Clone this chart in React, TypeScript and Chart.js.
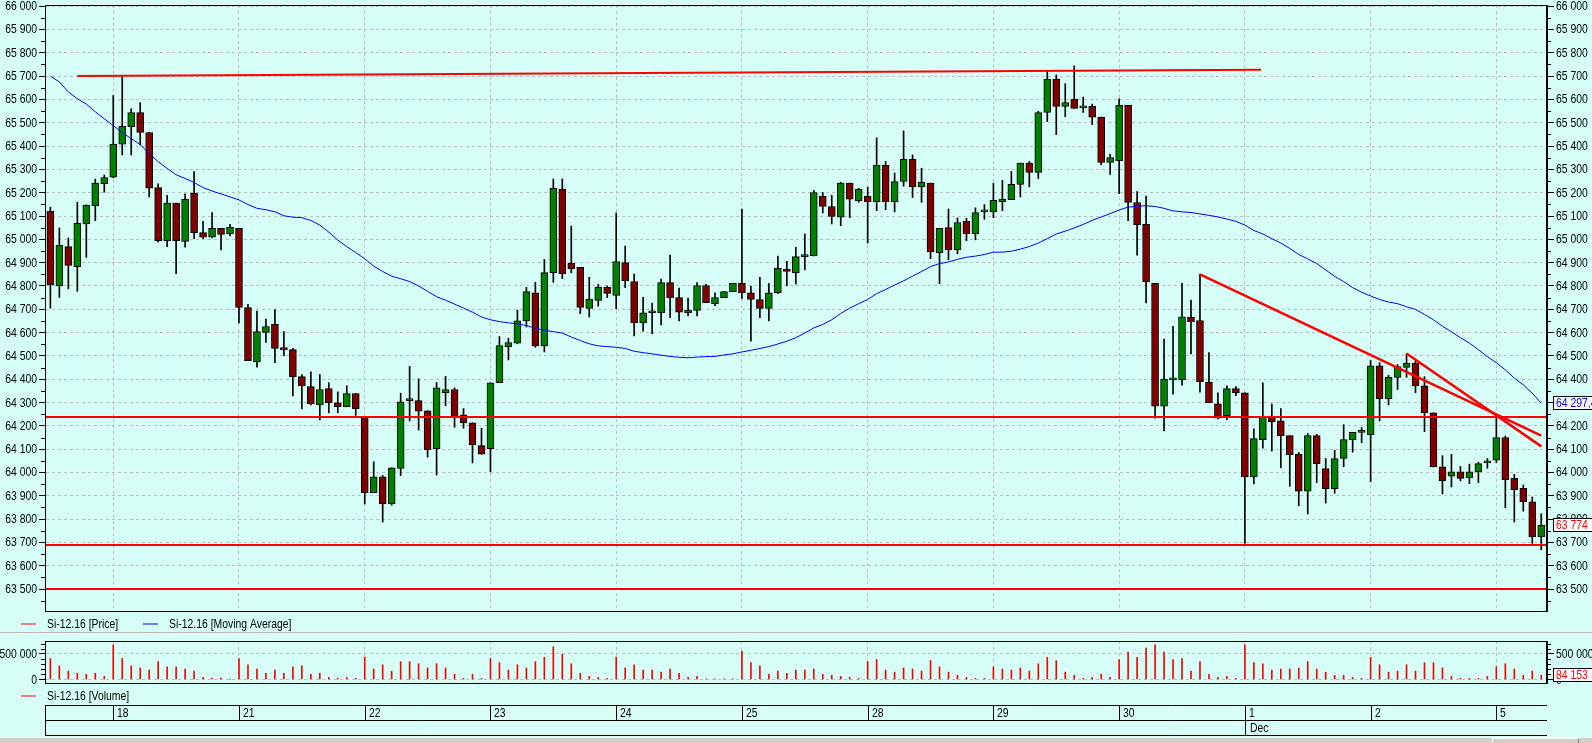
import React, { useEffect, useRef } from 'react';
import { Chart, registerables } from 'chart.js';

Chart.register(...registerables);

// ---------- DATA ----------
const seriesName = 'Si-12.16';
const dayStarts = [7, 21, 35, 49, 63, 77, 91, 105, 119, 133, 147, 161];
const dayLabels = ['18', '21', '22', '23', '24', '25', '28', '29', '30', '1', '2', '5'];
const monthStarts = [133];
const monthLabels = ['Dec'];

const open = [65120,64800,64969,64883,65066,65144,65239,65267,65408,65483,65544,65458,65222,64994,65155,64991,65198,65029,65009,65047,65024,65047,64707,64474,64601,64635,64532,64527,64411,64368,64290,64360,64299,64282,64339,64237,63914,63981,63865,64017,64308,64308,64265,64102,64342,64356,64247,64213,64115,64102,64385,64540,64555,64650,64771,64543,64857,65215,64897,64880,64704,64738,64794,64759,64900,64819,64642,64685,64685,64814,64750,64685,64695,64802,64724,64750,64776,64811,64771,64742,64704,64771,64871,64857,64926,64929,65184,65141,65095,65241,65166,65184,65161,65317,65161,65248,65343,65225,65241,64943,65050,64955,65077,65024,65118,65118,65162,65170,65236,65327,65287,65544,65687,65570,65601,65564,65570,65524,65330,65337,65575,65158,65064,64811,64285,64397,64397,64665,64652,64388,64294,64244,64360,64342,63981,64141,64242,64222,64158,64079,63920,64158,64017,63931,64060,64141,64172,64162,64458,64317,64408,64451,64468,64372,64256,64024,63984,64003,63978,64003,64041,64053,64150,63975,63932,63874,63724];
const high = [65138,65049,65006,65159,65148,65258,65276,65617,65698,65560,65586,65458,65238,65189,65155,65195,65291,65077,65115,65047,65064,65047,64721,64692,64658,64699,64604,64532,64420,64432,64420,64385,64346,64372,64339,64240,64046,63987,64020,64340,64455,64402,64265,64386,64412,64363,64274,64213,64190,64385,64583,64576,64696,64794,64816,64914,65259,65259,65057,64880,64837,64807,64800,65113,64971,64851,64751,64727,64830,64932,64791,64748,64814,64807,64771,64776,64811,65130,64800,64837,64811,64928,64906,64966,65023,65210,65201,65189,65245,65241,65219,65224,65435,65334,65284,65465,65362,65305,65241,65047,65130,65092,65090,65135,65149,65241,65253,65291,65327,65334,65549,65724,65705,65667,65744,65610,65580,65524,65365,65603,65575,65205,65185,64811,64572,64627,64811,64739,64850,64514,64342,64372,64368,64342,64187,64385,64294,64274,64158,64086,64167,64164,64060,64095,64205,64172,64193,64481,64471,64417,64463,64509,64478,64411,64256,64072,64078,64026,64036,64044,64060,64248,64156,63992,63946,63895,63823];
const low = [64705,64751,64788,64777,64923,65080,65202,65264,65362,65362,65405,65182,64988,64969,64853,64966,65003,65003,65007,64955,65015,64641,64480,64452,64558,64471,64501,64328,64273,64290,64225,64256,64256,64282,64245,63865,63914,63788,63860,63987,64221,64182,64066,63989,64287,64194,64190,64041,64079,64003,64385,64483,64552,64624,64537,64517,64816,64831,64857,64681,64667,64713,64750,64702,64793,64586,64606,64595,64633,64664,64650,64672,64672,64728,64715,64750,64776,64745,64563,64664,64650,64767,64800,64808,64869,64929,65113,65066,65058,65093,65159,64984,65123,65127,65118,65228,65179,65159,64917,64810,64912,64938,64994,64998,65086,65093,65123,65170,65182,65225,65261,65505,65449,65526,65561,65544,65492,65320,65278,65196,65080,64932,64727,64233,64178,64336,64374,64509,64345,64299,64230,64225,64330,63696,63951,64104,64092,64020,63941,63857,63822,63957,63869,63911,64025,64087,64128,63961,64221,64290,64356,64408,64342,64175,64024,63908,63938,63964,63952,63957,64018,64043,63849,63788,63834,63696,63668];
const close = [64805,64974,64888,65069,65146,65241,65265,65408,65485,65544,65458,65219,64994,65155,64994,65172,65029,65009,65047,65021,65052,64708,64480,64604,64626,64532,64527,64411,64371,64294,64356,64299,64282,64339,64274,63914,63981,63865,64020,64303,64308,64263,64098,64363,64356,64242,64213,64118,64079,64385,64544,64557,64650,64776,64543,64857,65219,64853,64874,64708,64744,64794,64768,64905,64823,64642,64685,64685,64814,64750,64688,64695,64802,64728,64750,64776,64811,64771,64742,64704,64771,64876,64862,64926,64926,65201,65141,65098,65241,65172,65215,65161,65317,65161,65248,65343,65225,65244,64946,65047,64955,65072,65024,65115,65118,65167,65173,65236,65327,65287,65544,65687,65570,65587,65561,65570,65524,65330,65351,65575,65158,65063,64817,64285,64400,64397,64668,64647,64388,64299,64233,64360,64342,63981,64145,64242,64217,64158,64076,63920,64158,64038,63931,64060,64141,64172,64172,64458,64317,64408,64454,64468,64372,64256,64024,63964,64003,63975,64003,64038,64041,64150,63969,63926,63874,63724,63774];
const movingAverage = [65700,65675,65632,65603,65580,65547,65517,65488,65458,65432,65406,65368,65333,65304,65277,65261,65244,65222,65207,65195,65182,65169,65149,65133,65127,65118,65101,65095,65093,65081,65061,65031,64997,64969,64943,64917,64885,64862,64842,64831,64819,64800,64777,64754,64739,64722,64705,64688,64667,64655,64647,64642,64638,64630,64619,64610,64604,64598,64581,64566,64552,64543,64540,64537,64532,64520,64514,64509,64503,64498,64494,64492,64495,64497,64498,64504,64509,64517,64524,64532,64540,64551,64563,64578,64598,64620,64635,64655,64682,64705,64724,64742,64767,64785,64804,64822,64842,64862,64883,64896,64903,64914,64923,64928,64935,64945,64945,64949,64958,64969,64984,65003,65023,65035,65049,65064,65081,65096,65110,65126,65138,65142,65144,65141,65133,65122,65118,65115,65109,65103,65096,65087,65077,65061,65038,65023,65003,64984,64961,64935,64916,64896,64869,64841,64819,64793,64773,64757,64742,64731,64724,64711,64699,64678,64655,64627,64604,64578,64555,64527,64497,64471,64440,64405,64376,64340,64297];
const volume = [411000,267000,164000,123000,103000,123000,62000,678000,411000,267000,226000,185000,349000,247000,247000,205000,164000,41000,27000,27000,7000,411000,288000,205000,123000,185000,123000,247000,267000,103000,123000,41000,27000,41000,27000,438000,205000,288000,164000,349000,349000,308000,226000,308000,226000,103000,21000,103000,21000,411000,329000,185000,288000,226000,349000,432000,637000,493000,308000,123000,62000,41000,21000,438000,226000,288000,185000,185000,144000,205000,123000,41000,62000,14000,14000,14000,14000,555000,329000,267000,103000,164000,123000,185000,185000,205000,103000,82000,62000,41000,21000,349000,390000,185000,144000,226000,205000,164000,370000,247000,144000,82000,41000,21000,21000,247000,205000,185000,226000,164000,308000,432000,370000,144000,82000,21000,41000,103000,41000,390000,534000,432000,616000,678000,534000,390000,411000,164000,349000,103000,41000,62000,21000,678000,329000,308000,185000,205000,205000,226000,349000,205000,144000,82000,82000,41000,21000,432000,288000,144000,164000,288000,164000,329000,329000,226000,62000,21000,21000,21000,62000,247000,308000,205000,82000,164000,84153];

const priceTicks = [63500,63600,63700,63800,63900,64000,64100,64200,64300,64400,64500,64600,64700,64800,64900,65000,65100,65200,65300,65400,65500,65600,65700,65800,65900,66000];
const volumeTicks = [0, 500000];
const volumeMinorTicks = [100000, 200000, 300000, 400000, 600000, 700000];
const levelLines = [64240, 63690, 63500];
const trendTopX = [3, 134.8];
const trendTopY = [65700, 65727];
const trendDown1X = [128, 166];
const trendDown1Y = [64850, 64158];
const trendDown2X = [151, 166];
const trendDown2Y = [64510, 64112];

// ---------- STYLE ----------
const BG = 'rgb(213,255,247)';
const GRID = 'rgb(196,188,188)';
const FONT = "'Liberation Sans', Arial, sans-serif";
const FS = 13;
const SX = 0.8; // horizontal condensation of text
const X_MIN = -0.6;
const X_MAX = 166.64;
const AXIS_W = 45;

const fmt = (v: number) => {
  const s = Math.round(v).toString();
  return s.length > 3 ? s.slice(0, -3) + ' ' + s.slice(-3) : s;
};

const drawText = (ctx: CanvasRenderingContext2D, text: string, x: number, y: number, align: CanvasTextAlign, color: string) => {
  ctx.save();
  ctx.translate(x, y);
  ctx.scale(SX, 1);
  ctx.font = `${FS}px ${FONT}`;
  ctx.fillStyle = color;
  ctx.textAlign = align;
  ctx.textBaseline = 'middle';
  ctx.fillText(text, 0, 0);
  ctx.restore();
};

const xScaleOpts = () => ({
  type: 'linear',
  min: X_MIN,
  max: X_MAX,
  offset: false,
  afterBuildTicks: (s: any) => { s.ticks = dayStarts.map((v) => ({ value: v })); },
  ticks: { display: false },
  grid: { color: GRID, drawTicks: false, lineWidth: 1, offset: false },
  border: { display: false, dash: [3, 3] },
  afterFit: (s: any) => { s.height = 0; s.paddingLeft = 0; s.paddingRight = 0; },
});

const yScaleOpts = (pos: 'left' | 'right', min: number, max: number, ticks: number[], onArea: boolean) => ({
  type: 'linear',
  position: pos,
  min,
  max,
  afterBuildTicks: (s: any) => { s.ticks = ticks.map((v) => ({ value: v })); },
  ticks: { display: false },
  grid: { color: GRID, drawOnChartArea: onArea, tickColor: '#000', tickLength: pos === 'left' ? 6 : 7, lineWidth: 1 },
  border: { display: true, color: '#000', width: 1, dash: [3, 3] },
  afterFit: (s: any) => { s.width = AXIS_W; s.paddingTop = 0; s.paddingBottom = 0; },
});

const drawAxisLabels = (chart: any, ticks: number[]) => {
  const { ctx, chartArea } = chart;
  const y = chart.scales.y;
  ticks.forEach((v) => {
    const py = Math.round(y.getPixelForValue(v)) + 0.5;
    drawText(ctx, fmt(v), chartArea.left - 8, py, 'right', '#000');
    drawText(ctx, fmt(v), chartArea.right + 9, py, 'left', '#000');
  });
};

const drawLegendItem = (ctx: CanvasRenderingContext2D, x: number, y: number, color: string, text: string) => {
  ctx.save();
  ctx.strokeStyle = color;
  ctx.lineWidth = 1;
  ctx.beginPath();
  ctx.moveTo(x, y + 0.5);
  ctx.lineTo(x + 15, y + 0.5);
  ctx.stroke();
  ctx.restore();
  drawText(ctx, text, x + 26, y + 0.5, 'left', '#000');
};

const drawValueBox = (ctx: CanvasRenderingContext2D, y: number, text: string, color: string) => {
  ctx.save();
  const yy = Math.round(y);
  ctx.fillStyle = '#fff';
  ctx.fillRect(1553, yy - 7, 45, 14);
  ctx.strokeStyle = '#000';
  ctx.lineWidth = 1;
  ctx.strokeRect(1553.5, yy - 6.5, 45, 13);
  ctx.restore();
  drawText(ctx, text, 1556, yy + 0.5, 'left', color);
};

const drawMinorTicks = (chart: any, values: number[], len: number) => {
  const { ctx, chartArea } = chart;
  const y = chart.scales.y;
  ctx.save();
  ctx.strokeStyle = '#000';
  ctx.lineWidth = 1;
  ctx.beginPath();
  values.forEach((v) => {
    const py = Math.round(y.getPixelForValue(v)) + 0.5;
    ctx.moveTo(chartArea.left - len, py);
    ctx.lineTo(chartArea.left, py);
    ctx.moveTo(chartArea.right, py);
    ctx.lineTo(chartArea.right + len, py);
  });
  ctx.stroke();
  ctx.restore();
};

const drawFrame = (chart: any) => {
  const { ctx, chartArea } = chart;
  ctx.save();
  ctx.strokeStyle = '#000';
  ctx.lineWidth = 1;
  ctx.strokeRect(chartArea.left + 0.5, chartArea.top + 0.5, chartArea.right - chartArea.left - 1, chartArea.bottom - chartArea.top);
  ctx.restore();
};

const pricePlugin = {
  id: 'priceDecor',
  afterDatasetsDraw(chart: any) {
    const { ctx, chartArea } = chart;
    const y = chart.scales.y;
    ctx.save();
    ctx.strokeStyle = '#ff0000';
    ctx.lineWidth = 2;
    levelLines.forEach((v) => {
      const py = Math.round(y.getPixelForValue(v));
      ctx.beginPath();
      ctx.moveTo(chartArea.left, py);
      ctx.lineTo(chartArea.right, py);
      ctx.stroke();
    });
    ctx.restore();
  },
  afterDraw(chart: any) {
    const { ctx } = chart;
    const y = chart.scales.y;
    drawFrame(chart);
    drawMinorTicks(chart, priceTicks.map((v) => v - 50), 4);
    drawAxisLabels(chart, priceTicks);
    const last = close.length - 1;
    drawValueBox(ctx, y.getPixelForValue(movingAverage[last]), fmt(movingAverage[last]) + ',4', '#0000ff');
    drawValueBox(ctx, y.getPixelForValue(close[last]), fmt(close[last]), '#ff0000');
    drawLegendItem(ctx, 21, 623.5, '#ff0000', `${seriesName} [Price]`);
    drawLegendItem(ctx, 143, 623.5, '#0000ff', `${seriesName} [Moving Average]`);
  },
};

const volumePlugin = {
  id: 'volumeDecor',
  afterDraw(chart: any) {
    const { ctx } = chart;
    const y = chart.scales.y;
    const x = chart.scales.x;
    drawFrame(chart);
    drawMinorTicks(chart, volumeMinorTicks, 4);
    drawAxisLabels(chart, volumeTicks);
    const last = volume.length - 1;
    drawValueBox(ctx, y.getPixelForValue(volume[last]), fmt(volume[last]), '#ff0000');
    drawLegendItem(ctx, 21, 61.5, '#ff0000', `${seriesName} [Volume]`);

    // date axis
    const L = 45, R = 1547, T = 71.5, M = 86.5, B = 101.5;
    ctx.save();
    ctx.strokeStyle = '#000';
    ctx.lineWidth = 1;
    ctx.beginPath();
    [T, M, B].forEach((yy) => { ctx.moveTo(L, yy); ctx.lineTo(R, yy); });
    ctx.moveTo(L + 0.5, T); ctx.lineTo(L + 0.5, B);
    dayStarts.forEach((d) => {
      const px = Math.round(x.getPixelForValue(d)) + 0.5;
      ctx.moveTo(px, T);
      ctx.lineTo(px, monthStarts.includes(d) ? B : M);
    });
    ctx.stroke();
    ctx.restore();
    dayStarts.forEach((d, i) => {
      const px = Math.round(x.getPixelForValue(d));
      drawText(ctx, dayLabels[i], px + 4, 79.5, 'left', '#000');
    });
    monthStarts.forEach((d, i) => {
      const px = Math.round(x.getPixelForValue(d));
      drawText(ctx, monthLabels[i], px + 5, 94.5, 'left', '#000');
    });
  },
};

const priceConfig = (): any => ({
  type: 'bar',
  data: {
    datasets: [
      {
        type: 'line', label: 'trendTop',
        data: trendTopX.map((v, i) => ({ x: v, y: trendTopY[i] })),
        borderColor: '#ff0000', borderWidth: 2, pointRadius: 0, order: -1,
      },
      {
        type: 'line', label: 'trendDown1',
        data: trendDown1X.map((v, i) => ({ x: v, y: trendDown1Y[i] })),
        borderColor: '#ff0000', borderWidth: 2.5, pointRadius: 0, order: -1,
      },
      {
        type: 'line', label: 'trendDown2',
        data: trendDown2X.map((v, i) => ({ x: v, y: trendDown2Y[i] })),
        borderColor: '#ff0000', borderWidth: 2.5, pointRadius: 0, order: -1,
      },
      {
        type: 'line', label: 'Moving Average',
        data: movingAverage.map((v, i) => ({ x: i, y: v })),
        borderColor: '#0000ff', borderWidth: 1, pointRadius: 0, order: 0,
      },
      {
        type: 'bar', label: 'body',
        data: open.map((o, i) => ({ x: i, y: [o, close[i]] })),
        backgroundColor: open.map((o, i) => (close[i] >= o ? '#008000' : '#800000')),
        borderColor: '#000', borderWidth: 1, borderSkipped: false,
        barThickness: 7, grouped: false, minBarLength: 2, order: 1,
      },
      {
        type: 'bar', label: 'wick',
        data: low.map((l, i) => ({ x: i, y: [l, high[i]] })),
        backgroundColor: '#000', borderWidth: 0,
        barThickness: 1, grouped: false, order: 2,
      },
    ],
  },
  options: {
    animation: false,
    responsive: false,
    maintainAspectRatio: false,
    events: [],
    layout: { padding: { top: 5, bottom: 21, left: 0, right: 0 } },
    plugins: { legend: { display: false }, tooltip: { enabled: false } },
    scales: {
      x: xScaleOpts(),
      y: yScaleOpts('left', 63406, 66005, priceTicks, true),
      y2: yScaleOpts('right', 63406, 66005, priceTicks, false),
    },
  },
  plugins: [pricePlugin],
});

const volumeConfig = (): any => ({
  type: 'bar',
  data: {
    datasets: [
      {
        type: 'bar', label: 'Volume',
        data: volume.map((v, i) => ({ x: i, y: v })),
        backgroundColor: '#ff0000', borderWidth: 0, barThickness: 1,
      },
    ],
  },
  options: {
    animation: false,
    responsive: false,
    maintainAspectRatio: false,
    events: [],
    layout: { padding: { top: 7, bottom: 60, left: 0, right: 0 } },
    plugins: { legend: { display: false }, tooltip: { enabled: false } },
    scales: {
      x: xScaleOpts(),
      y: yScaleOpts('left', -68000, 752000, volumeTicks, true),
      y2: yScaleOpts('right', -68000, 752000, volumeTicks, false),
    },
  },
  plugins: [volumePlugin],
});

export default function App() {
  const priceRef = useRef<HTMLCanvasElement>(null);
  const volRef = useRef<HTMLCanvasElement>(null);
  useEffect(() => {
    const c1 = new Chart(priceRef.current as HTMLCanvasElement, priceConfig());
    const c2 = new Chart(volRef.current as HTMLCanvasElement, volumeConfig());
    return () => { c1.destroy(); c2.destroy(); };
  }, []);
  return (
    <div style={{ position: 'fixed', left: 0, top: 0, width: 1592, height: 743, background: BG, overflow: 'hidden' }}>
      <canvas ref={priceRef} width={1592} height={632} style={{ position: 'absolute', left: 0, top: 0, width: 1592, height: 632 }} />
      <div style={{ position: 'absolute', left: 0, top: 632, width: 1592, height: 1, background: '#b8b8b8' }} />
      <div style={{ position: 'absolute', left: 0, top: 633, width: 1592, height: 1, background: '#ececec' }} />
      <canvas ref={volRef} width={1592} height={109} style={{ position: 'absolute', left: 0, top: 634, width: 1592, height: 109 }} />
      <div style={{ position: 'absolute', left: 0, top: 737, width: 1592, height: 6, background: '#d4d0c8', borderTop: '1px solid #ffffff' }} />
      <div style={{ position: 'absolute', left: 1492, top: 738, width: 85, height: 5, background: '#d4d0c8', borderLeft: '1px solid #fff', borderTop: '1px solid #fff', borderRight: '1px solid #808080' }} />
    </div>
  );
}
